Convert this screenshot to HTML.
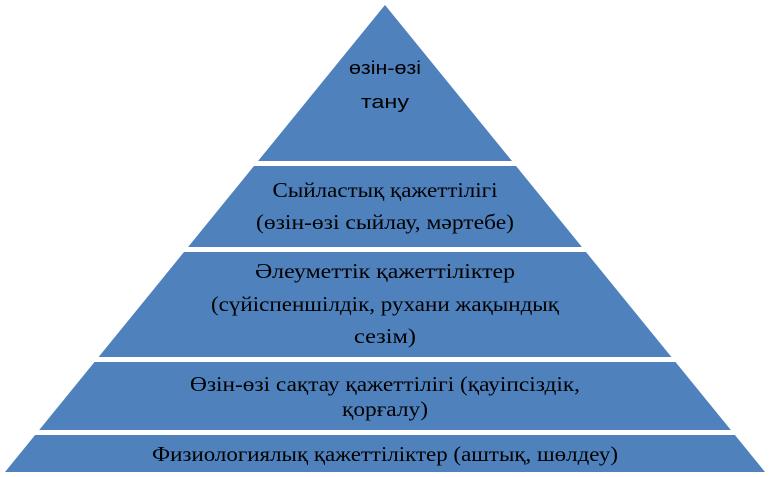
<!DOCTYPE html>
<html><head><meta charset="utf-8"><style>
html,body{margin:0;padding:0;background:#fff;width:770px;height:477px;overflow:hidden}
svg{display:block}
.t{font-family:"Liberation Serif",serif;font-size:21px;fill:#000;text-anchor:middle}
.s{font-family:"Liberation Sans",sans-serif;font-size:18px;fill:#000;text-anchor:middle}
</style></head><body>
<svg width="770" height="477" viewBox="0 0 770 477">
<polygon points="385,5 5,472 765,472" fill="#4f81bd"/>
<rect x="0" y="161" width="770" height="5" fill="#fff"/>
<rect x="0" y="247" width="770" height="5" fill="#fff"/>
<rect x="0" y="357" width="770" height="5" fill="#fff"/>
<rect x="0" y="430" width="770" height="5" fill="#fff"/>
<text class="s" x="385" y="74" textLength="72" lengthAdjust="spacingAndGlyphs">өзін-өзі</text>
<text class="s" x="385" y="108" textLength="48" lengthAdjust="spacingAndGlyphs">тану</text>
<text class="t" x="385" y="197" textLength="225" lengthAdjust="spacingAndGlyphs">Сыйластық қажеттілігі</text>
<text class="t" x="385" y="229" textLength="258" lengthAdjust="spacingAndGlyphs">(өзін-өзі сыйлау, мәртебе)</text>
<text class="t" x="385" y="278" textLength="260" lengthAdjust="spacingAndGlyphs">Әлеуметтік қажеттіліктер</text>
<text class="t" x="385" y="311" textLength="348" lengthAdjust="spacingAndGlyphs">(сүйіспеншілдік, рухани жақындық</text>
<text class="t" x="385" y="343" textLength="62" lengthAdjust="spacingAndGlyphs">сезім)</text>
<text class="t" x="385" y="391" textLength="390" lengthAdjust="spacingAndGlyphs">Өзін-өзі сақтау қажеттілігі (қауіпсіздік,</text>
<text class="t" x="385" y="416" textLength="86" lengthAdjust="spacingAndGlyphs">қорғалу)</text>
<text class="t" x="385" y="461" textLength="466" lengthAdjust="spacingAndGlyphs">Физиологиялық қажеттіліктер (аштық, шөлдеу)</text>
</svg>
</body></html>
